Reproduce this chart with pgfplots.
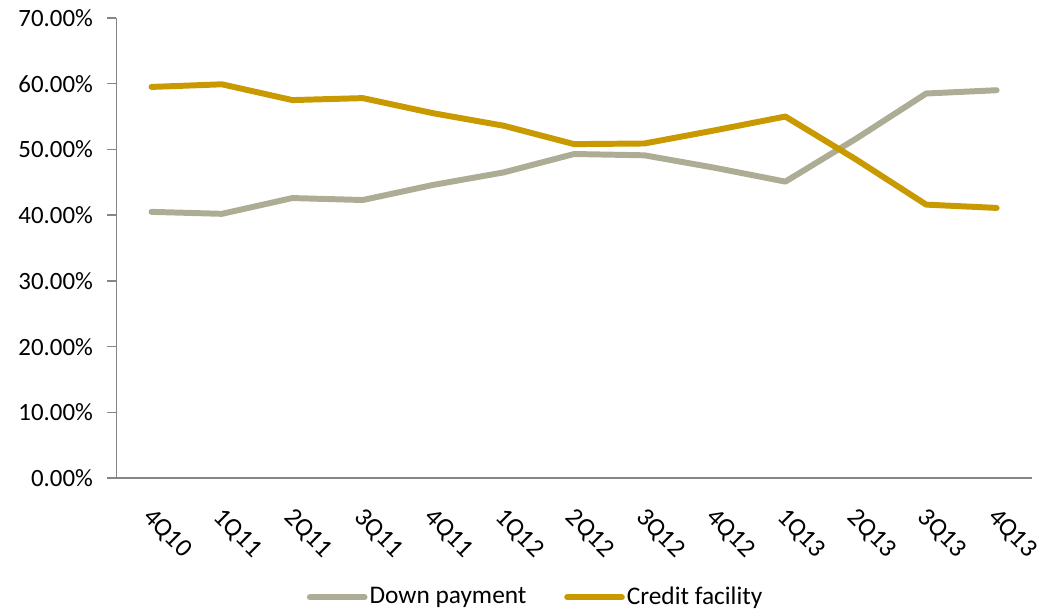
\documentclass[border=0pt]{standalone}
\usepackage{fontspec}
\setmainfont{Carlito}
\usepackage{pgfplots}
\pgfplotsset{compat=1.18}
\definecolor{dpay}{HTML}{ADAD96}
\definecolor{cfac}{HTML}{C89A00}
\definecolor{axgray}{HTML}{868686}
\begin{document}
\fontsize{25bp}{30bp}\selectfont
\begin{tikzpicture}
\begin{axis}[
  name=ax,
  scale only axis,
  width=921bp, height=463bp,
  xmin=-0.5, xmax=12.5,
  ymin=0, ymax=70,
  xtick={0,...,12},
  xticklabels={4Q10,1Q11,2Q11,3Q11,4Q11,1Q12,2Q12,3Q12,4Q12,1Q13,2Q13,3Q13,4Q13},
  ytick={0,10,...,70},
  yticklabel={\pgfmathprintnumber[fixed,fixed zerofill,precision=2]{\tick}\%},
  /pgf/number format/assume math mode=true,
  axis x line*=bottom,
  axis y line*=left,
  axis line style={axgray, line width=1.3bp},
  x axis line style={-},
  y axis line style={-},
  tick align=outside,
  tick pos=left,
  major tick length=9bp,
  y tick style={axgray, line width=1.3bp},
  x tick style={draw=none},
  xticklabel style={rotate=-45, anchor=west, font=\fontsize{26bp}{30bp}\selectfont, xshift=7bp, yshift=-22bp},
  yticklabel style={font=\fontsize{25bp}{30bp}\selectfont, xshift=-6bp},
  legend columns=2,
  legend style={draw=none, at={(0.458,-0.259)}, anchor=center, font=\fontsize{25.5bp}{30bp}\selectfont, /tikz/every even column/.append style={column sep=36bp}, inner sep=0pt},
  legend image code/.code={\draw[#1, line cap=round] (0bp,0bp) -- (55bp,0bp);},
  every axis plot/.append style={line width=6bp, line join=round, line cap=round},
]
\addplot[dpay] coordinates {(0,40.5) (1,40.2) (2,42.6) (3,42.3) (4,44.6) (5,46.5) (6,49.3) (7,49.1) (8,47.2) (9,45.1) (10,51.6) (11,58.5) (12,59.0)};
\addlegendentry{Down payment}
\addplot[cfac] coordinates {(0,59.5) (1,59.9) (2,57.5) (3,57.8) (4,55.5) (5,53.6) (6,50.8) (7,50.9) (8,52.9) (9,55.0) (10,48.5) (11,41.6) (12,41.1)};
\addlegendentry{Credit facility}
\end{axis}
\path (ax.south west) ++(-117bp,-135bp) rectangle ++(1051bp,616bp);
\end{tikzpicture}
\end{document}
